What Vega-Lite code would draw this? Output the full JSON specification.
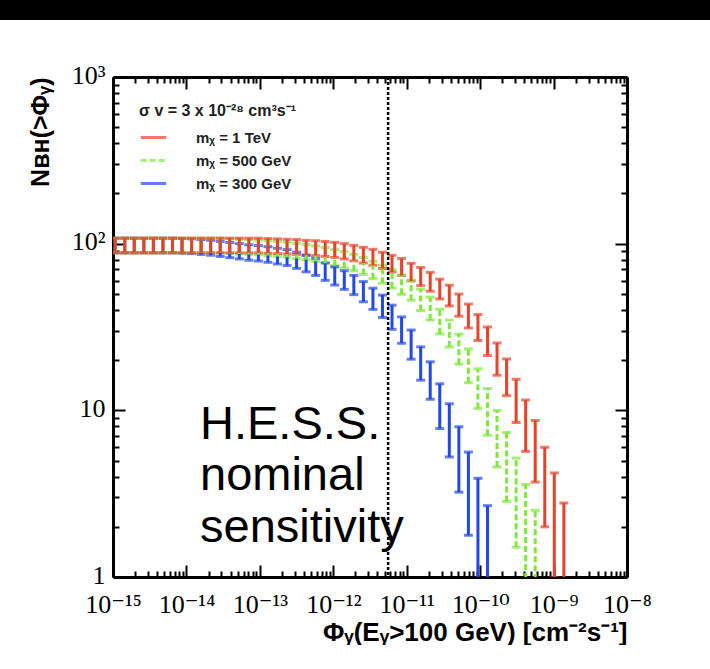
{
  "$schema": "https://vega.github.io/schema/vega-lite/v6.json",
  "padding": 0,
  "background": "white",
  "spacing": 42,
  "resolve": {"legend": {"color": "independent", "strokeDash": "independent"}},
  "config": {
    "view": {"stroke": null},
    "axis": {"grid": false, "domainColor": "black", "domainWidth": 3, "tickColor": "black", "tickWidth": 2, "labelColor": "black", "labelFont": "Liberation Serif, DejaVu Serif", "labelFontSize": 26, "labelFlush": false, "labelOverlap": false, "titleColor": "black", "titleFont": "Liberation Sans", "titleFontWeight": "bold", "titleFontSize": 26},
    "legend": {"titleFont": "Liberation Sans", "titleFontSize": 16, "titleFontWeight": "bold", "titleColor": "#222", "titleLimit": 400, "titlePadding": 4, "labelFont": "Liberation Sans", "labelFontSize": 15, "labelFontWeight": "bold", "labelColor": "#222", "labelOffset": 28, "rowPadding": 0}
  },
  "datasets": {
    "pts": [
      {"s":"300 GeV","x":1.0715e-15,"n":98,"e":9.9},{"s":"300 GeV","x":1.4454e-15,"n":98,"e":9.9},{"s":"300 GeV","x":1.9498e-15,"n":98,"e":9.9},{"s":"300 GeV","x":2.6303e-15,"n":98,"e":9.9},{"s":"300 GeV","x":3.5481e-15,"n":98,"e":9.9},{"s":"300 GeV","x":4.7863e-15,"n":98,"e":9.9},{"s":"300 GeV","x":6.4565e-15,"n":98,"e":9.9},{"s":"300 GeV","x":8.7096e-15,"n":97.5,"e":9.87},{"s":"300 GeV","x":1.1749e-14,"n":97,"e":9.85},{"s":"300 GeV","x":1.5849e-14,"n":96,"e":9.8},{"s":"300 GeV","x":2.138e-14,"n":95,"e":9.75},{"s":"300 GeV","x":2.884e-14,"n":93.5,"e":9.67},{"s":"300 GeV","x":3.8905e-14,"n":92,"e":9.59},{"s":"300 GeV","x":5.2481e-14,"n":90.5,"e":9.51},{"s":"300 GeV","x":7.0795e-14,"n":89,"e":9.43},{"s":"300 GeV","x":9.5499e-14,"n":88,"e":9.38},{"s":"300 GeV","x":1.2882e-13,"n":86.6,"e":9.31},{"s":"300 GeV","x":1.7378e-13,"n":84.7,"e":9.2},{"s":"300 GeV","x":2.3442e-13,"n":83,"e":9.11},{"s":"300 GeV","x":3.1623e-13,"n":80,"e":8.94},{"s":"300 GeV","x":4.2658e-13,"n":76.5,"e":8.75},{"s":"300 GeV","x":5.7544e-13,"n":73,"e":8.54},{"s":"300 GeV","x":7.7625e-13,"n":68.5,"e":8.28},{"s":"300 GeV","x":1.0471e-12,"n":64.5,"e":8.03},{"s":"300 GeV","x":1.4125e-12,"n":61,"e":7.81},{"s":"300 GeV","x":1.9055e-12,"n":57,"e":7.55},{"s":"300 GeV","x":2.5704e-12,"n":52,"e":7.21},{"s":"300 GeV","x":3.4674e-12,"n":47.2,"e":6.87},{"s":"300 GeV","x":4.6774e-12,"n":42.6,"e":6.53},{"s":"300 GeV","x":6.3096e-12,"n":36.7,"e":6.06},{"s":"300 GeV","x":8.5114e-12,"n":30.8,"e":5.55},{"s":"300 GeV","x":1.1482e-11,"n":25.3,"e":5.03},{"s":"300 GeV","x":1.5488e-11,"n":19.6,"e":4.43},{"s":"300 GeV","x":2.0893e-11,"n":15.6,"e":3.95},{"s":"300 GeV","x":2.8184e-11,"n":11.1,"e":3.33},{"s":"300 GeV","x":3.8019e-11,"n":8.1,"e":2.85},{"s":"300 GeV","x":5.1286e-11,"n":5.6,"e":2.37},{"s":"300 GeV","x":6.9183e-11,"n":3.7,"e":1.92},{"s":"300 GeV","x":9.3325e-11,"n":2.37,"e":1.54},{"s":"300 GeV","x":1.2589e-10,"n":1.47,"e":1.21},
      {"s":"500 GeV","x":1.0715e-15,"n":98,"e":9.9},{"s":"500 GeV","x":1.4454e-15,"n":98,"e":9.9},{"s":"500 GeV","x":1.9498e-15,"n":98,"e":9.9},{"s":"500 GeV","x":2.6303e-15,"n":98,"e":9.9},{"s":"500 GeV","x":3.5481e-15,"n":98,"e":9.9},{"s":"500 GeV","x":4.7863e-15,"n":98,"e":9.9},{"s":"500 GeV","x":6.4565e-15,"n":98,"e":9.9},{"s":"500 GeV","x":8.7096e-15,"n":98,"e":9.9},{"s":"500 GeV","x":1.1749e-14,"n":98,"e":9.9},{"s":"500 GeV","x":1.5849e-14,"n":98,"e":9.9},{"s":"500 GeV","x":2.138e-14,"n":98,"e":9.9},{"s":"500 GeV","x":2.884e-14,"n":98,"e":9.9},{"s":"500 GeV","x":3.8905e-14,"n":97,"e":9.85},{"s":"500 GeV","x":5.2481e-14,"n":96.5,"e":9.82},{"s":"500 GeV","x":7.0795e-14,"n":96,"e":9.8},{"s":"500 GeV","x":9.5499e-14,"n":95.5,"e":9.77},{"s":"500 GeV","x":1.2882e-13,"n":94.5,"e":9.72},{"s":"500 GeV","x":1.7378e-13,"n":93.5,"e":9.67},{"s":"500 GeV","x":2.3442e-13,"n":92.5,"e":9.62},{"s":"500 GeV","x":3.1623e-13,"n":91,"e":9.54},{"s":"500 GeV","x":4.2658e-13,"n":89.5,"e":9.46},{"s":"500 GeV","x":5.7544e-13,"n":87.5,"e":9.35},{"s":"500 GeV","x":7.7625e-13,"n":85.5,"e":9.25},{"s":"500 GeV","x":1.0471e-12,"n":83,"e":9.11},{"s":"500 GeV","x":1.4125e-12,"n":80.5,"e":8.97},{"s":"500 GeV","x":1.9055e-12,"n":77.5,"e":8.8},{"s":"500 GeV","x":2.5704e-12,"n":74,"e":8.6},{"s":"500 GeV","x":3.4674e-12,"n":70,"e":8.37},{"s":"500 GeV","x":4.6774e-12,"n":66,"e":8.12},{"s":"500 GeV","x":6.3096e-12,"n":62,"e":7.87},{"s":"500 GeV","x":8.5114e-12,"n":57.2,"e":7.56},{"s":"500 GeV","x":1.1482e-11,"n":53.1,"e":7.29},{"s":"500 GeV","x":1.5488e-11,"n":46.5,"e":6.82},{"s":"500 GeV","x":2.0893e-11,"n":41.3,"e":6.43},{"s":"500 GeV","x":2.8184e-11,"n":34.6,"e":5.88},{"s":"500 GeV","x":3.8019e-11,"n":29.4,"e":5.42},{"s":"500 GeV","x":5.1286e-11,"n":23.8,"e":4.88},{"s":"500 GeV","x":6.9183e-11,"n":19,"e":4.36},{"s":"500 GeV","x":9.3325e-11,"n":14,"e":3.74},{"s":"500 GeV","x":1.2589e-10,"n":10.3,"e":3.21},{"s":"500 GeV","x":1.6982e-10,"n":7.27,"e":2.7},{"s":"500 GeV","x":2.2909e-10,"n":5.1,"e":2.26},{"s":"500 GeV","x":3.0903e-10,"n":3.34,"e":1.83},{"s":"500 GeV","x":4.1687e-10,"n":2.13,"e":1.46},{"s":"500 GeV","x":5.6234e-10,"n":1.35,"e":1.16},
      {"s":"1 TeV","x":1.0715e-15,"n":98,"e":9.9},{"s":"1 TeV","x":1.4454e-15,"n":98,"e":9.9},{"s":"1 TeV","x":1.9498e-15,"n":98,"e":9.9},{"s":"1 TeV","x":2.6303e-15,"n":98,"e":9.9},{"s":"1 TeV","x":3.5481e-15,"n":98,"e":9.9},{"s":"1 TeV","x":4.7863e-15,"n":98,"e":9.9},{"s":"1 TeV","x":6.4565e-15,"n":98,"e":9.9},{"s":"1 TeV","x":8.7096e-15,"n":98,"e":9.9},{"s":"1 TeV","x":1.1749e-14,"n":98,"e":9.9},{"s":"1 TeV","x":1.5849e-14,"n":98,"e":9.9},{"s":"1 TeV","x":2.138e-14,"n":98,"e":9.9},{"s":"1 TeV","x":2.884e-14,"n":98,"e":9.9},{"s":"1 TeV","x":3.8905e-14,"n":98,"e":9.9},{"s":"1 TeV","x":5.2481e-14,"n":98,"e":9.9},{"s":"1 TeV","x":7.0795e-14,"n":98,"e":9.9},{"s":"1 TeV","x":9.5499e-14,"n":98,"e":9.9},{"s":"1 TeV","x":1.2882e-13,"n":97.5,"e":9.87},{"s":"1 TeV","x":1.7378e-13,"n":97,"e":9.85},{"s":"1 TeV","x":2.3442e-13,"n":96.5,"e":9.82},{"s":"1 TeV","x":3.1623e-13,"n":96,"e":9.8},{"s":"1 TeV","x":4.2658e-13,"n":95,"e":9.75},{"s":"1 TeV","x":5.7544e-13,"n":94.5,"e":9.72},{"s":"1 TeV","x":7.7625e-13,"n":93.5,"e":9.67},{"s":"1 TeV","x":1.0471e-12,"n":92.3,"e":9.61},{"s":"1 TeV","x":1.4125e-12,"n":90.5,"e":9.51},{"s":"1 TeV","x":1.9055e-12,"n":88.3,"e":9.4},{"s":"1 TeV","x":2.5704e-12,"n":85.8,"e":9.26},{"s":"1 TeV","x":3.4674e-12,"n":83.4,"e":9.13},{"s":"1 TeV","x":4.6774e-12,"n":79.9,"e":8.94},{"s":"1 TeV","x":6.3096e-12,"n":76.4,"e":8.74},{"s":"1 TeV","x":8.5114e-12,"n":73,"e":8.54},{"s":"1 TeV","x":1.1482e-11,"n":68,"e":8.25},{"s":"1 TeV","x":1.5488e-11,"n":64,"e":8},{"s":"1 TeV","x":2.0893e-11,"n":59.6,"e":7.72},{"s":"1 TeV","x":2.8184e-11,"n":53.9,"e":7.34},{"s":"1 TeV","x":3.8019e-11,"n":49.3,"e":7.02},{"s":"1 TeV","x":5.1286e-11,"n":43.3,"e":6.58},{"s":"1 TeV","x":6.9183e-11,"n":37.3,"e":6.11},{"s":"1 TeV","x":9.3325e-11,"n":31.9,"e":5.65},{"s":"1 TeV","x":1.2589e-10,"n":26.5,"e":5.15},{"s":"1 TeV","x":1.6982e-10,"n":20.8,"e":4.56},{"s":"1 TeV","x":2.2909e-10,"n":16.3,"e":4.04},{"s":"1 TeV","x":3.0903e-10,"n":11.9,"e":3.45},{"s":"1 TeV","x":4.1687e-10,"n":8.6,"e":2.93},{"s":"1 TeV","x":5.6234e-10,"n":6.2,"e":2.49},{"s":"1 TeV","x":7.5858e-10,"n":4,"e":2},{"s":"1 TeV","x":1.0233e-9,"n":2.6,"e":1.61},{"s":"1 TeV","x":1.3804e-9,"n":1.54,"e":1.24}
    ]
  },
  "vconcat": [
    {
      "width": 514, "height": 20,
      "data": {"values": [{"a": 0, "b": 1}]},
      "mark": {"type": "rect", "color": "black", "clip": false},
      "encoding": {
        "x": {"field": "a", "type": "quantitative", "scale": {"domain": [0, 1], "range": [-113, 597], "nice": false, "zero": false}, "axis": null},
        "x2": {"field": "b"},
        "y": {"field": "a", "type": "quantitative", "scale": {"domain": [0, 1], "range": [0, 20], "nice": false, "zero": false}, "axis": null},
        "y2": {"field": "b"}
      }
    },
    {
      "width": 514, "height": 500,
      "resolve": {"axis": {"x": "independent", "y": "independent"}},
      "layer": [
        {
          "data": {"name": "pts"},
          "mark": {"type": "point", "opacity": 0},
          "encoding": {
            "x": {"field": "x", "type": "quantitative", "scale": {"type": "log", "domain": [1e-15, 1e-8], "nice": false},
              "axis": {"orient": "bottom", "values": [1e-15,1e-14,1e-13,1e-12,1e-11,1e-10,1e-9,1e-8], "tickSize": -12, "labelPadding": 26,
                "labelExpr": "['10⁻¹⁵','10⁻¹⁴','10⁻¹³','10⁻¹²','10⁻¹¹','10⁻¹⁰','10⁻⁹','10⁻⁸'][round(log(datum.value)/LN10)+15]",
                "title": "Φᵧ(Eᵧ>100 GeV) [cm⁻²s⁻¹]", "titleAnchor": "end", "titlePadding": 2}},
            "y": {"field": "n", "type": "quantitative", "scale": {"type": "log", "domain": [1, 1000], "nice": false},
              "axis": {"orient": "left", "values": [1,10,100,1000], "tickSize": -12, "labelPadding": 20, "labelOffset": -2,
                "labelExpr": "['1','10','10²','10³'][round(log(datum.value)/LN10)]",
                "title": "Nʙʜ(>Φᵧ)", "titleAnchor": "end", "titlePadding": 18, "titleFontSize": 25}}
          }
        },
        {
          "data": {"name": "pts"},
          "mark": {"type": "point", "opacity": 0},
          "encoding": {
            "x": {"field": "x", "type": "quantitative", "scale": {"type": "log", "domain": [1e-15, 1e-8], "nice": false},
              "axis": {"orient": "bottom", "values": [2e-15,3e-15,4e-15,5e-15,6e-15,7e-15,8e-15,9e-15,2e-14,3e-14,4e-14,5e-14,6e-14,7e-14,8e-14,9e-14,2e-13,3e-13,4e-13,5e-13,6e-13,7e-13,8e-13,9e-13,2e-12,3e-12,4e-12,5e-12,6e-12,7e-12,8e-12,9e-12,2e-11,3e-11,4e-11,5e-11,6e-11,7e-11,8e-11,9e-11,2e-10,3e-10,4e-10,5e-10,6e-10,7e-10,8e-10,9e-10,2e-9,3e-9,4e-9,5e-9,6e-9,7e-9,8e-9,9e-9], "tickSize": -6, "labels": false, "domain": false, "title": null}},
            "y": {"field": "n", "type": "quantitative", "scale": {"type": "log", "domain": [1, 1000], "nice": false},
              "axis": {"orient": "left", "values": [2,3,4,5,6,7,8,9,20,30,40,50,60,70,80,90,200,300,400,500,600,700,800,900], "tickSize": -6, "labels": false, "domain": false, "title": null}}
          }
        },
        {
          "data": {"name": "pts"},
          "mark": {"type": "point", "opacity": 0},
          "encoding": {
            "x": {"field": "x", "type": "quantitative", "scale": {"type": "log", "domain": [1e-15, 1e-8], "nice": false},
              "axis": {"orient": "top", "values": [1e-15,1e-14,1e-13,1e-12,1e-11,1e-10,1e-9,1e-8], "tickSize": -12, "labels": false, "title": null}},
            "y": {"field": "n", "type": "quantitative", "scale": {"type": "log", "domain": [1, 1000], "nice": false},
              "axis": {"orient": "right", "values": [1,10,100,1000], "tickSize": -12, "labels": false, "title": null}}
          }
        },
        {
          "data": {"name": "pts"},
          "mark": {"type": "point", "opacity": 0},
          "encoding": {
            "x": {"field": "x", "type": "quantitative", "scale": {"type": "log", "domain": [1e-15, 1e-8], "nice": false},
              "axis": {"orient": "top", "values": [2e-15,3e-15,4e-15,5e-15,6e-15,7e-15,8e-15,9e-15,2e-14,3e-14,4e-14,5e-14,6e-14,7e-14,8e-14,9e-14,2e-13,3e-13,4e-13,5e-13,6e-13,7e-13,8e-13,9e-13,2e-12,3e-12,4e-12,5e-12,6e-12,7e-12,8e-12,9e-12,2e-11,3e-11,4e-11,5e-11,6e-11,7e-11,8e-11,9e-11,2e-10,3e-10,4e-10,5e-10,6e-10,7e-10,8e-10,9e-10,2e-9,3e-9,4e-9,5e-9,6e-9,7e-9,8e-9,9e-9], "tickSize": -6, "labels": false, "domain": false, "title": null}},
            "y": {"field": "n", "type": "quantitative", "scale": {"type": "log", "domain": [1, 1000], "nice": false},
              "axis": {"orient": "right", "values": [2,3,4,5,6,7,8,9,20,30,40,50,60,70,80,90,200,300,400,500,600,700,800,900], "tickSize": -6, "labels": false, "domain": false, "title": null}}
          }
        },
        {
          "data": {"name": "pts"},
          "mark": {"type": "errorbar", "ticks": true, "size": 9, "thickness": 3, "clip": true},
          "encoding": {
            "x": {"field": "x", "type": "quantitative", "scale": {"type": "log", "domain": [1e-15, 1e-8], "nice": false}, "axis": null},
            "y": {"field": "n", "type": "quantitative", "scale": {"type": "log", "domain": [1, 1000], "nice": false}, "axis": null},
            "yError": {"field": "e"},
            "color": {"field": "s", "type": "nominal",
              "scale": {"domain": ["1 TeV", "500 GeV", "300 GeV"], "range": ["#e8432a", "#80e83c", "#2348e8"]},
              "legend": {"title": "σ v = 3 x 10⁻²⁸ cm³s⁻¹", "orient": "top-left", "offset": 26, "symbolType": "stroke", "symbolStrokeWidth": 3, "symbolSize": 650, "labelExpr": "'mᵪ = ' + datum.label"}},
            "strokeDash": {"field": "s", "type": "nominal",
              "scale": {"domain": ["1 TeV", "500 GeV", "300 GeV"], "range": [[1, 0], [6, 3], [1, 0]]},
              "legend": {"title": "σ v = 3 x 10⁻²⁸ cm³s⁻¹", "orient": "top-left", "offset": 26, "symbolType": "stroke", "symbolStrokeWidth": 3, "symbolSize": 650, "labelExpr": "'mᵪ = ' + datum.label"}}
          }
        },
        {
          "data": {"values": [{"x": 5.58e-12}]},
          "mark": {"type": "rule", "color": "black", "strokeWidth": 2.5, "strokeDash": [3, 2]},
          "encoding": {
            "x": {"field": "x", "type": "quantitative", "scale": {"type": "log", "domain": [1e-15, 1e-8], "nice": false}, "axis": null}
          }
        },
        {
          "data": {"values": [{"t": "H.E.S.S.\nnominal\nsensitivity", "x": 1.53e-14, "y": 6.77}]},
          "mark": {"type": "text", "align": "left", "baseline": "alphabetic", "lineBreak": "\n", "lineHeight": 51.5, "font": "Liberation Sans", "fontSize": 47, "color": "black"},
          "encoding": {
            "x": {"field": "x", "type": "quantitative", "scale": {"type": "log", "domain": [1e-15, 1e-8], "nice": false}, "axis": null},
            "y": {"field": "y", "type": "quantitative", "scale": {"type": "log", "domain": [1, 1000], "nice": false}, "axis": null},
            "text": {"field": "t"}
          }
        }
      ]
    }
  ]
}
